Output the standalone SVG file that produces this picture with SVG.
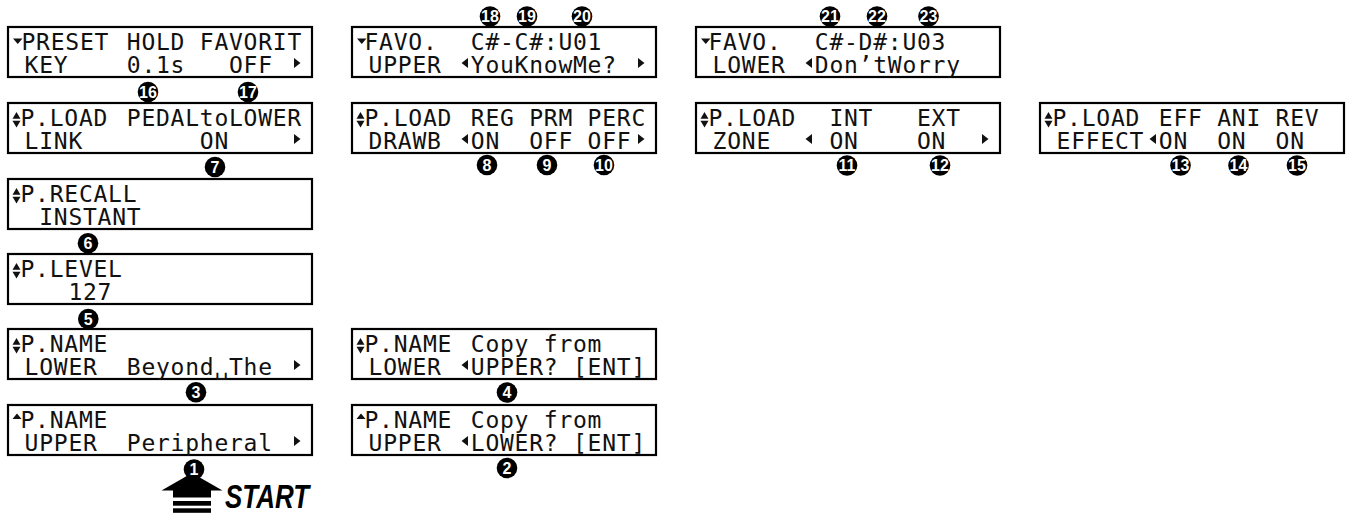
<svg xmlns="http://www.w3.org/2000/svg" xmlns:xlink="http://www.w3.org/1999/xlink" width="1346" height="515" viewBox="0 0 1346 515">
<style>
.box{fill:#fff;stroke:#000;stroke-width:2.2}
.lcd{font-family:"DejaVu Sans Mono","Liberation Mono",monospace;font-size:23px;letter-spacing:0.75px;fill:#111}
.ico{fill:#111}
.badge circle{fill:#000}
.badge text{font-family:"Liberation Sans Narrow","Liberation Sans",sans-serif;font-weight:bold;font-size:16px;fill:#fff;text-anchor:middle}
.start{font-family:"Liberation Sans Narrow","Liberation Sans",sans-serif;font-weight:bold;font-style:italic;font-size:34px;fill:#000}
</style>
<defs>
<polygon id="dn" class="ico" points="5,12.5 14.5,12.5 9.75,18"/>
<polygon id="up" class="ico" points="4.5,15 13.5,15 9,9.5"/>
<g id="ud" class="ico"><polygon points="4.5,16.8 12.5,16.8 8.5,10"/><polygon points="4.5,18.7 12.5,18.7 8.5,25.5"/></g>
<polygon id="lt" class="ico" points="116,32 116,42 109.5,37"/>
<polygon id="rt" class="ico" points="286,32 286,42 292.5,37"/>
</defs>

<g id="connectors"></g>

<g id="node-preset-hold-favorit">
<rect class="box" x="8" y="27" width="304" height="50"/>
<use href="#dn" x="8" y="26"/>
<text class="lcd" y="50"><tspan x="21.5">PRESET</tspan> <tspan x="126.8">HOLD</tspan> <tspan x="199.8">FAVORIT</tspan></text>
<text class="lcd" y="72.5"><tspan x="24.6">KEY</tspan> <tspan x="126.8">0.1s</tspan> <tspan x="229">OFF</tspan></text>
<use href="#rt" x="8" y="26"/>
</g>

<g id="node-pload-link">
<rect class="box" x="8" y="103" width="304" height="50"/>
<use href="#ud" x="8" y="102"/>
<text class="lcd" y="126"><tspan x="20.5">P.LOAD</tspan> <tspan x="126.8">PEDALtoLOWER</tspan></text>
<text class="lcd" y="148.5"><tspan x="24.6">LINK</tspan> <tspan x="199.8">ON</tspan></text>
<use href="#rt" x="8" y="102"/>
</g>

<g id="node-precall">
<rect class="box" x="8" y="179" width="304" height="50"/>
<use href="#ud" x="8" y="178"/>
<text class="lcd" y="202"><tspan x="20.5">P.RECALL</tspan></text>
<text class="lcd" y="224.5"><tspan x="39.2">INSTANT</tspan></text>
</g>

<g id="node-plevel">
<rect class="box" x="8" y="254" width="304" height="50"/>
<use href="#ud" x="8" y="253"/>
<text class="lcd" y="277"><tspan x="20.5">P.LEVEL</tspan></text>
<text class="lcd" y="299.5"><tspan x="68.4">127</tspan></text>
</g>

<g id="node-pname-lower">
<rect class="box" x="8" y="329" width="304" height="50"/>
<use href="#ud" x="8" y="328"/>
<text class="lcd" y="352"><tspan x="20.5">P.NAME</tspan></text>
<text class="lcd" y="374.5"><tspan x="24.6">LOWER</tspan> <tspan x="126.8">Beyond</tspan><tspan x="214.4">␣</tspan><tspan x="229">The</tspan></text>
<use href="#rt" x="8" y="328"/>
</g>

<g id="node-pname-upper">
<rect class="box" x="8" y="405" width="304" height="50"/>
<use href="#up" x="8" y="404"/>
<text class="lcd" y="428"><tspan x="20.5">P.NAME</tspan></text>
<text class="lcd" y="450.5"><tspan x="24.6">UPPER</tspan> <tspan x="126.8">Peripheral</tspan></text>
<use href="#rt" x="8" y="404"/>
</g>

<g id="node-favo-upper">
<rect class="box" x="352" y="27" width="304" height="50"/>
<use href="#dn" x="352" y="26"/>
<text class="lcd" y="50"><tspan x="364.5">FAVO.</tspan> <tspan x="470.8">C#-C#:U01</tspan></text>
<use href="#lt" x="352" y="26"/>
<text class="lcd" y="72.5"><tspan x="368.6">UPPER</tspan> <tspan x="470.8">YouKnowMe?</tspan></text>
<use href="#rt" x="352" y="26"/>
</g>

<g id="node-pload-drawb">
<rect class="box" x="352" y="103" width="304" height="50"/>
<use href="#ud" x="352" y="102"/>
<text class="lcd" y="126"><tspan x="364.5">P.LOAD</tspan> <tspan x="470.8">REG</tspan> <tspan x="529.2">PRM</tspan> <tspan x="587.6">PERC</tspan></text>
<use href="#lt" x="352" y="102"/>
<text class="lcd" y="148.5"><tspan x="368.6">DRAWB</tspan> <tspan x="470.8">ON</tspan> <tspan x="529.2">OFF</tspan> <tspan x="587.6">OFF</tspan></text>
<use href="#rt" x="352" y="102"/>
</g>

<g id="node-copy-lower">
<rect class="box" x="352" y="329" width="304" height="50"/>
<use href="#ud" x="352" y="328"/>
<text class="lcd" y="352"><tspan x="364.5">P.NAME</tspan> <tspan x="470.8">Copy</tspan> <tspan x="543.8">from</tspan></text>
<use href="#lt" x="352" y="328"/>
<text class="lcd" y="374.5"><tspan x="368.6">LOWER</tspan> <tspan x="470.8">UPPER?</tspan> <tspan x="573">[ENT]</tspan></text>
</g>

<g id="node-copy-upper">
<rect class="box" x="352" y="405" width="304" height="50"/>
<use href="#up" x="352" y="404"/>
<text class="lcd" y="428"><tspan x="364.5">P.NAME</tspan> <tspan x="470.8">Copy</tspan> <tspan x="543.8">from</tspan></text>
<use href="#lt" x="352" y="404"/>
<text class="lcd" y="450.5"><tspan x="368.6">UPPER</tspan> <tspan x="470.8">LOWER?</tspan> <tspan x="573">[ENT]</tspan></text>
</g>

<g id="node-favo-lower">
<rect class="box" x="696" y="27" width="304" height="50"/>
<use href="#dn" x="696" y="26"/>
<text class="lcd" y="50"><tspan x="708.5">FAVO.</tspan> <tspan x="814.8">C#-D#:U03</tspan></text>
<use href="#lt" x="696" y="26"/>
<text class="lcd" y="72.5"><tspan x="712.6">LOWER</tspan> <tspan x="814.8">Don’tWorry</tspan></text>
</g>

<g id="node-pload-zone">
<rect class="box" x="696" y="103" width="304" height="50"/>
<use href="#ud" x="696" y="102"/>
<text class="lcd" y="126"><tspan x="708.5">P.LOAD</tspan> <tspan x="829.4">INT</tspan> <tspan x="917">EXT</tspan></text>
<use href="#lt" x="696" y="102"/>
<text class="lcd" y="148.5"><tspan x="712.6">ZONE</tspan> <tspan x="829.4">ON</tspan> <tspan x="917">ON</tspan></text>
<use href="#rt" x="696" y="102"/>
</g>

<g id="node-pload-effect">
<rect class="box" x="1040" y="103" width="304" height="50"/>
<use href="#ud" x="1040" y="102"/>
<text class="lcd" y="126"><tspan x="1052.5">P.LOAD</tspan> <tspan x="1158.8">EFF</tspan> <tspan x="1217.2">ANI</tspan> <tspan x="1275.6">REV</tspan></text>
<use href="#lt" x="1040" y="102"/>
<text class="lcd" y="148.5"><tspan x="1056.6">EFFECT</tspan> <tspan x="1158.8">ON</tspan> <tspan x="1217.2">ON</tspan> <tspan x="1275.6">ON</tspan></text>
</g>

<g id="start">
<polygon points="161.5,490.5 222.5,490.5 192,473" fill="#000"/>
<rect x="173" y="490" width="38" height="7.5" fill="#000"/>
<rect x="173" y="501" width="38" height="4.7" fill="#000"/>
<rect x="173" y="508.3" width="38" height="4.5" fill="#000"/>
<text class="start" x="225" y="507.8" textLength="84" lengthAdjust="spacingAndGlyphs">START</text>
</g>

<g id="badges">
<g class="badge" id="b1"><circle cx="194" cy="469.5" r="10.3"/><text x="194" y="475.2">1</text></g>
<g class="badge" id="b2"><circle cx="507" cy="468" r="10.3"/><text x="507" y="473.7">2</text></g>
<g class="badge" id="b3"><circle cx="196" cy="392.3" r="10.3"/><text x="196" y="398">3</text></g>
<g class="badge" id="b4"><circle cx="507" cy="392.5" r="10.3"/><text x="507" y="398.2">4</text></g>
<g class="badge" id="b5"><circle cx="88.3" cy="319" r="10.3"/><text x="88.3" y="324.7">5</text></g>
<g class="badge" id="b6"><circle cx="88" cy="243.3" r="10.3"/><text x="88" y="249">6</text></g>
<g class="badge" id="b7"><circle cx="215" cy="167" r="10.3"/><text x="215" y="172.7">7</text></g>
<g class="badge" id="b8"><circle cx="487" cy="165" r="10.3"/><text x="487" y="170.7">8</text></g>
<g class="badge" id="b9"><circle cx="547" cy="165" r="10.3"/><text x="547" y="170.7">9</text></g>
<g class="badge" id="b10"><circle cx="604" cy="165" r="10.3"/><text x="604" y="170.7">10</text></g>
<g class="badge" id="b11"><circle cx="847" cy="165.5" r="10.3"/><text x="847" y="171.2">11</text></g>
<g class="badge" id="b12"><circle cx="940" cy="165.5" r="10.3"/><text x="940" y="171.2">12</text></g>
<g class="badge" id="b13"><circle cx="1180.5" cy="165.5" r="10.3"/><text x="1180.5" y="171.2">13</text></g>
<g class="badge" id="b14"><circle cx="1238.5" cy="165.5" r="10.3"/><text x="1238.5" y="171.2">14</text></g>
<g class="badge" id="b15"><circle cx="1297" cy="165.5" r="10.3"/><text x="1297" y="171.2">15</text></g>
<g class="badge" id="b16"><circle cx="148" cy="92" r="10.3"/><text x="148" y="97.7">16</text></g>
<g class="badge" id="b17"><circle cx="248" cy="92" r="10.3"/><text x="248" y="97.7">17</text></g>
<g class="badge" id="b18"><circle cx="490" cy="16.5" r="10.3"/><text x="490" y="22.2">18</text></g>
<g class="badge" id="b19"><circle cx="527" cy="16.5" r="10.3"/><text x="527" y="22.2">19</text></g>
<g class="badge" id="b20"><circle cx="582" cy="16.5" r="10.3"/><text x="582" y="22.2">20</text></g>
<g class="badge" id="b21"><circle cx="830" cy="16.5" r="10.3"/><text x="830" y="22.2">21</text></g>
<g class="badge" id="b22"><circle cx="877" cy="16.5" r="10.3"/><text x="877" y="22.2">22</text></g>
<g class="badge" id="b23"><circle cx="928.5" cy="16.5" r="10.3"/><text x="928.5" y="22.2">23</text></g>
</g>
</svg>
